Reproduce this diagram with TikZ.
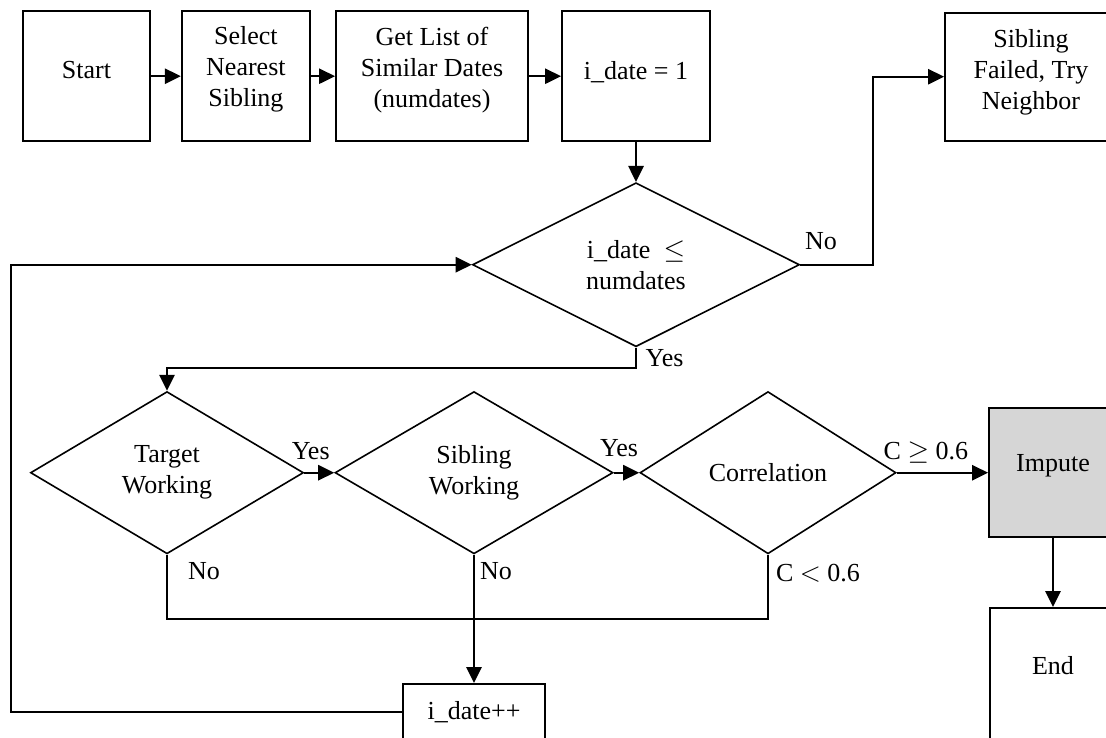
\documentclass[tikz,border=0pt]{standalone}
\usepackage{fontspec}
\setmainfont{Liberation Serif}
\usetikzlibrary{arrows.meta,shapes.geometric,calc}
\definecolor{impgray}{RGB}{214,214,214}
\begin{document}
\begin{tikzpicture}[x=0.75pt,y=-0.75pt,
  font=\fontsize{19.5pt}{23.3pt}\selectfont,
  box/.style={draw,line width=1.5pt,rectangle,inner sep=0pt},
  dia/.style={draw,line width=1.2pt,diamond,inner sep=0pt,align=center},
  lbl/.style={align=center,inner sep=0pt},
  tag/.style={inner sep=0pt},
  conn/.style={draw,line width=1.4pt},
  arr/.style={draw,line width=1.4pt,-{Triangle[length=12pt,width=11.5pt]}}]
\useasboundingbox (0,0) rectangle (1106,738);
\clip (0,0) rectangle (1106,738);
% top row
\node[box,minimum width=95.7pt,minimum height=97.5pt,label={[lbl,yshift=5pt]center:Start}] (start) at (86.5,76.2) {};
\node[box,minimum width=96.2pt,minimum height=97.5pt,label={[lbl,yshift=5pt]center:Select\\Nearest\\Sibling}] (select) at (245.9,76.2) {};
\node[box,minimum width=144pt,minimum height=97.5pt,label={[lbl,yshift=4.5pt]center:Get List of\\Similar Dates\\(numdates)}] (getlist) at (432,76.2) {};
\node[box,minimum width=111pt,minimum height=97.5pt,label={[lbl,yshift=3pt]center:i\_date = 1}] (idate) at (636,76.2) {};
\node[box,minimum width=129pt,minimum height=96pt,label={[lbl,yshift=3pt]center:Sibling\\Failed, Try\\Neighbor}] (sibfail) at (1031,76.7) {};
% decision row
\node[dia,minimum width=245.25pt,minimum height=123pt] (d1) at (636,264.7) {i\_date~~$\leq$\\numdates};
\node[dia,minimum width=204.75pt,minimum height=121.7pt] (target) at (167,472.7) {Target\\Working};
\node[dia,minimum width=208.5pt,minimum height=121.7pt] (sibw) at (474,472.7) {Sibling\\Working};
\node[dia,minimum width=192pt,minimum height=121.7pt] (corr) at (768,472.7) {\raisebox{-3pt}{Correlation}};
\node[box,fill=impgray,minimum width=96pt,minimum height=97pt,label={[lbl,yshift=5pt]center:Impute}] (impute) at (1053,472.7) {};
\node[box,minimum width=94.5pt,minimum height=100.5pt,label={[lbl,yshift=6.75pt]center:End}] (endbox) at (1053,675) {};
\node[box,minimum width=106.8pt,minimum height=42pt] (idp) at (474,712) {i\_date++};
% coordinates
\coordinate (nobend) at (873,264.7);
\coordinate (yesbar) at (0,368);
\coordinate (bus) at (0,619.3);
\coordinate (loopc) at (11,712);
% connectors
\draw[arr] (start) -- (select);
\draw[arr] (select) -- (getlist);
\draw[arr] (getlist) -- (idate);
\draw[arr] (idate) -- (d1.north);
\draw[arr] (d1.east) -- (nobend) |- (sibfail.west);
\draw[arr] (d1.south) -- (d1.south |- yesbar) -| (target.north);
\draw[arr] (target.east) -- (sibw.west);
\draw[arr] (sibw.east) -- (corr.west);
\draw[arr] (corr.east) -- (impute.west);
\draw[arr] (impute.south) -- (endbox.north);
\draw[conn] (target.south) -- (target.south |- bus) -- (corr.south |- bus) -- (corr.south);
\draw[arr] (sibw.south) -- (idp.north);
\draw[arr] (idp.west) -- (loopc) |- (d1.west);
% labels
\node[tag] (lno1) at (821,241) {No};
\node[tag] (lyes1) at (664.5,358) {Yes};
\node[tag] (lyes2) at (310.7,451) {Yes};
\node[tag] (lyes3) at (619,448) {Yes};
\node[tag] (lno2) at (204,571) {No};
\node[tag] (lno3) at (496,571) {No};
\node[tag] (lcge) at (925.9,453) {C $\geq$ 0.6};
\node[tag] (lclt) at (818,573) {C $<$ 0.6};
\end{tikzpicture}
\end{document}
